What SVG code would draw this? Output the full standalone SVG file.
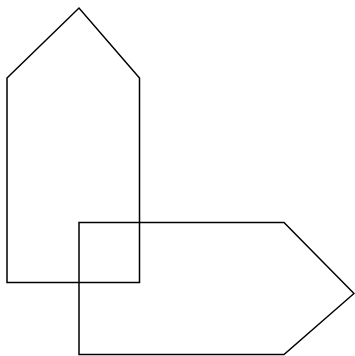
<svg xmlns="http://www.w3.org/2000/svg" width="355" height="356" viewBox="0 0 355 356">
<style>.s{fill:none;stroke:#000;stroke-width:1.5;stroke-linejoin:miter}</style>
<rect width="355" height="356" fill="#fff"/>
<g id="shape1"><polygon class="s" points="7,78 79,8 139.5,78 139.5,282.5 7,282.5"/></g>
<g id="shape2"><polygon class="s" points="79,222.5 284,222.5 354,293.5 284,354.5 79,354.5"/></g>
<g id="connectors"/>
</svg>
